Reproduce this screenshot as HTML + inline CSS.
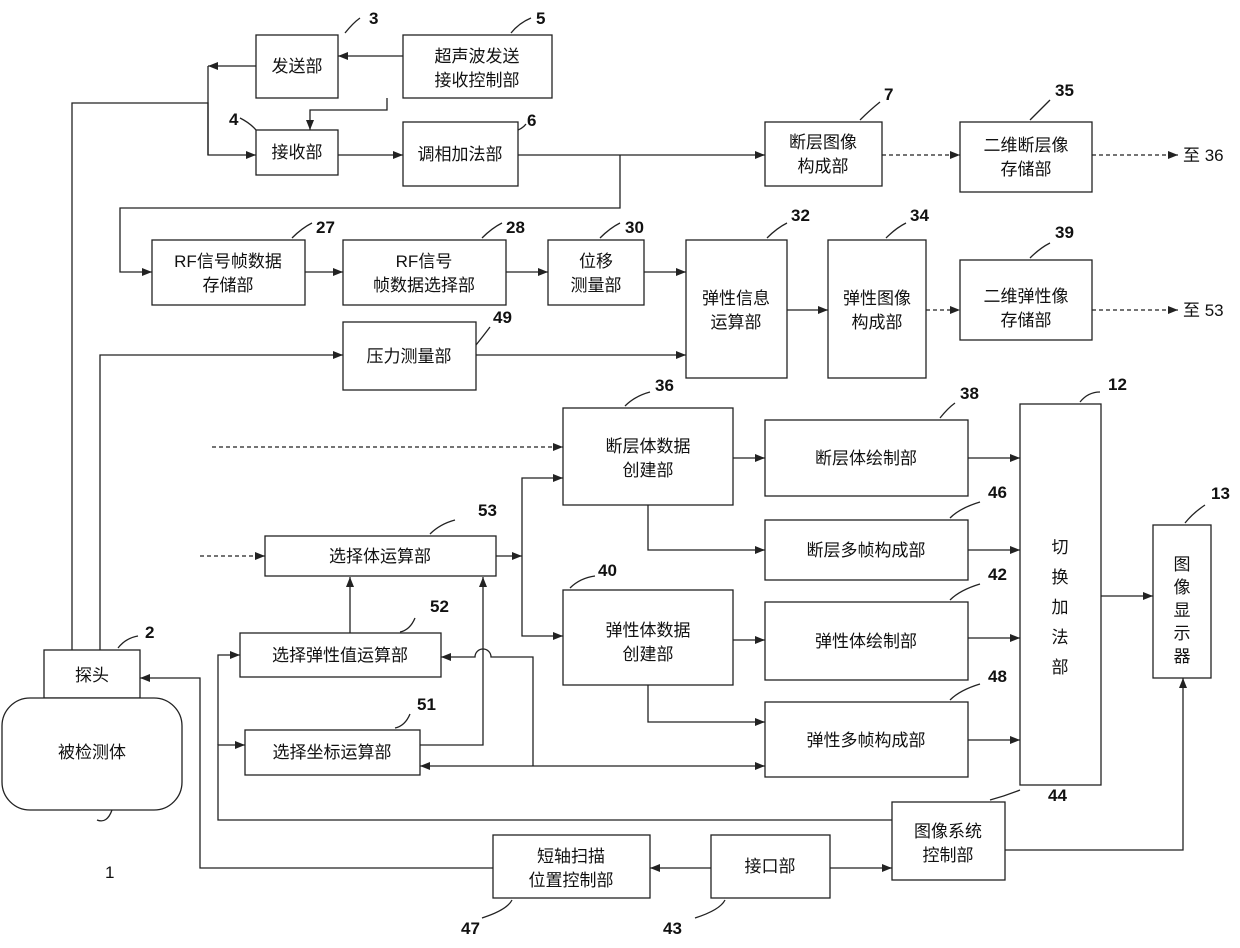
<!DOCTYPE html>
<html><head><meta charset="utf-8"><style>
body{margin:0;background:#fff}
svg text{font-family:"Liberation Sans","Noto Sans CJK SC",sans-serif;fill:#111}
.b{fill:#fff;stroke:#222;stroke-width:1.3}
.l{fill:none;stroke:#222;stroke-width:1.3}
.d{fill:none;stroke:#222;stroke-width:1.3;stroke-dasharray:4,3}
.t{font-size:17px;text-anchor:middle}
.n{font-size:17px;font-weight:bold}
</style></head><body>
<svg width="1240" height="943" viewBox="0 0 1240 943" xmlns="http://www.w3.org/2000/svg">
<defs><marker id="a" markerWidth="10" markerHeight="8" refX="10" refY="4" orient="auto" markerUnits="userSpaceOnUse"><path d="M0,0L10,4L0,8z" fill="#222"/></marker></defs>
<g class="b">
<rect x="256" y="35" width="82" height="63"/>
<rect x="403" y="35" width="149" height="63"/>
<rect x="256" y="130" width="82" height="45"/>
<rect x="403" y="122" width="115" height="64"/>
<rect x="765" y="122" width="117" height="64"/>
<rect x="960" y="122" width="132" height="70"/>
<rect x="152" y="240" width="153" height="65"/>
<rect x="343" y="240" width="163" height="65"/>
<rect x="548" y="240" width="96" height="65"/>
<rect x="686" y="240" width="101" height="138"/>
<rect x="828" y="240" width="98" height="138"/>
<rect x="960" y="260" width="132" height="80"/>
<rect x="343" y="322" width="133" height="68"/>
<rect x="563" y="408" width="170" height="97"/>
<rect x="765" y="420" width="203" height="76"/>
<rect x="1020" y="404" width="81" height="381"/>
<rect x="1153" y="525" width="58" height="153"/>
<rect x="265" y="536" width="231" height="40"/>
<rect x="765" y="520" width="203" height="60"/>
<rect x="563" y="590" width="170" height="95"/>
<rect x="240" y="633" width="201" height="44"/>
<rect x="765" y="602" width="203" height="78"/>
<rect x="44" y="650" width="96" height="48"/>
<rect x="2" y="698" width="180" height="112" rx="28"/>
<rect x="245" y="730" width="175" height="45"/>
<rect x="765" y="702" width="203" height="75"/>
<rect x="892" y="802" width="113" height="78"/>
<rect x="493" y="835" width="157" height="63"/>
<rect x="711" y="835" width="119" height="63"/>
</g>
<g class="t">
<text x="297" y="72">发送部</text>
<text x="477" y="62">超声波发送</text><text x="477" y="86">接收控制部</text>
<text x="297" y="158">接收部</text>
<text x="460" y="160">调相加法部</text>
<text x="823" y="148">断层图像</text><text x="823" y="172">构成部</text>
<text x="1026" y="151">二维断层像</text><text x="1026" y="175">存储部</text>
<text x="228" y="267">RF信号帧数据</text><text x="228" y="291">存储部</text>
<text x="424" y="267">RF信号</text><text x="424" y="291">帧数据选择部</text>
<text x="596" y="267">位移</text><text x="596" y="291">测量部</text>
<text x="736" y="304">弹性信息</text><text x="736" y="328">运算部</text>
<text x="877" y="304">弹性图像</text><text x="877" y="328">构成部</text>
<text x="1026" y="302">二维弹性像</text><text x="1026" y="326">存储部</text>
<text x="409" y="362">压力测量部</text>
<text x="648" y="452">断层体数据</text><text x="648" y="476">创建部</text>
<text x="866" y="464">断层体绘制部</text>
<text x="380" y="562">选择体运算部</text>
<text x="866" y="556">断层多帧构成部</text>
<text x="648" y="636">弹性体数据</text><text x="648" y="660">创建部</text>
<text x="340" y="661">选择弹性值运算部</text>
<text x="866" y="647">弹性体绘制部</text>
<text x="92" y="681">探头</text>
<text x="92" y="758">被检测体</text>
<text x="332" y="758">选择坐标运算部</text>
<text x="866" y="746">弹性多帧构成部</text>
<text x="948" y="837">图像系统</text><text x="948" y="861">控制部</text>
<text x="571" y="862">短轴扫描</text><text x="571" y="886">位置控制部</text>
<text x="770" y="872">接口部</text>
<text x="1060" y="553">切</text><text x="1060" y="583">换</text><text x="1060" y="613">加</text><text x="1060" y="643">法</text><text x="1060" y="673">部</text>
<text x="1182" y="570">图</text><text x="1182" y="593">像</text><text x="1182" y="616">显</text><text x="1182" y="639">示</text><text x="1182" y="662">器</text>
</g>
<text x="1183" y="161" font-size="17">至 36</text>
<text x="1183" y="316" font-size="17">至 53</text>
<text x="105" y="878" font-size="17">1</text>
<g class="n">
<text x="369" y="24">3</text><text x="536" y="24">5</text><text x="229" y="125">4</text><text x="527" y="126">6</text>
<text x="884" y="100">7</text><text x="1055" y="96">35</text><text x="316" y="233">27</text><text x="506" y="233">28</text>
<text x="625" y="233">30</text><text x="791" y="221">32</text><text x="910" y="221">34</text><text x="1055" y="238">39</text>
<text x="493" y="323">49</text><text x="655" y="391">36</text><text x="960" y="399">38</text><text x="1108" y="390">12</text>
<text x="1211" y="499">13</text><text x="478" y="516">53</text><text x="988" y="498">46</text><text x="598" y="576">40</text>
<text x="430" y="612">52</text><text x="988" y="580">42</text><text x="145" y="638">2</text><text x="417" y="710">51</text>
<text x="988" y="682">48</text><text x="1048" y="801">44</text><text x="461" y="934">47</text><text x="663" y="934">43</text>
</g>
<g class="l">
<path d="M345,33q8,-10 15,-15"/><path d="M511,33q8,-10 20,-15"/><path d="M240,118q10,5 16,12"/><path d="M518,130q5,-2 8,-6"/>
<path d="M860,120q10,-10 20,-18"/><path d="M1030,120q10,-10 20,-20"/><path d="M292,238q10,-10 20,-15"/><path d="M482,238q10,-10 20,-15"/>
<path d="M600,238q10,-10 20,-15"/><path d="M767,238q10,-10 20,-15"/><path d="M886,238q10,-10 20,-15"/><path d="M1030,258q10,-10 20,-15"/>
<path d="M476,345q8,-10 14,-18"/><path d="M625,406q10,-10 25,-14"/><path d="M940,418q8,-10 15,-15"/><path d="M1080,402q8,-10 20,-10"/>
<path d="M1185,523q8,-10 20,-18"/><path d="M430,534q10,-10 25,-14"/><path d="M950,518q10,-10 30,-16"/><path d="M570,588q10,-10 25,-12"/>
<path d="M400,632q10,-2 15,-14"/><path d="M950,600q10,-10 30,-16"/><path d="M118,648q8,-10 20,-12"/><path d="M395,728q10,-2 15,-14"/>
<path d="M950,700q10,-10 30,-16"/><path d="M990,800q15,-4 30,-10"/><path d="M97,820q10,4 15,-10"/><path d="M512,900q-5,10 -30,18"/><path d="M725,900q-5,10 -30,18"/>
</g>
<g class="l">
<path d="M403,56H338" marker-end="url(#a)"/>
<path d="M256,66H208" marker-end="url(#a)"/>
<path d="M208,66V155"/>
<path d="M72,650V103H208V155H256" marker-end="url(#a)"/>
<path d="M387,98V110H310V130" marker-end="url(#a)"/>
<path d="M338,155H403" marker-end="url(#a)"/>
<path d="M518,155H765" marker-end="url(#a)"/>
<path d="M620,155V208H120V272H152" marker-end="url(#a)"/>
<path d="M305,272H343" marker-end="url(#a)"/>
<path d="M506,272H548" marker-end="url(#a)"/>
<path d="M644,272H686" marker-end="url(#a)"/>
<path d="M787,310H828" marker-end="url(#a)"/>
<path d="M100,650V355H343" marker-end="url(#a)"/>
<path d="M476,355H686" marker-end="url(#a)"/>
<path d="M496,556H522" marker-end="url(#a)"/>
<path d="M522,556V478H563" marker-end="url(#a)"/>
<path d="M522,556V636H563" marker-end="url(#a)"/>
<path d="M733,458H765" marker-end="url(#a)"/>
<path d="M648,505V550H765" marker-end="url(#a)"/>
<path d="M733,640H765" marker-end="url(#a)"/>
<path d="M648,685V722H765" marker-end="url(#a)"/>
<path d="M968,458H1020" marker-end="url(#a)"/>
<path d="M968,550H1020" marker-end="url(#a)"/>
<path d="M968,638H1020" marker-end="url(#a)"/>
<path d="M968,740H1020" marker-end="url(#a)"/>
<path d="M1101,596H1153" marker-end="url(#a)"/>
<path d="M350,633V577" marker-end="url(#a)"/>
<path d="M420,745H483V577" marker-end="url(#a)"/>
<path d="M533,766V657H491a8,8 0 0 0 -16,0H441" marker-end="url(#a)"/>
<path d="M533,766H420" marker-end="url(#a)"/>
<path d="M533,766H765" marker-end="url(#a)"/>
<path d="M892,820H218V745H245" marker-end="url(#a)"/>
<path d="M218,745V655H240" marker-end="url(#a)"/>
<path d="M493,868H200V678H140" marker-end="url(#a)"/>
<path d="M711,868H650" marker-end="url(#a)"/>
<path d="M830,868H892" marker-end="url(#a)"/>
<path d="M1005,850H1183V678" marker-end="url(#a)"/>
</g>
<g class="d">
<path d="M882,155H960" marker-end="url(#a)"/>
<path d="M1092,155H1178" marker-end="url(#a)"/>
<path d="M926,310H960" marker-end="url(#a)"/>
<path d="M1092,310H1178" marker-end="url(#a)"/>
<path d="M212,447H563" marker-end="url(#a)"/>
<path d="M200,556H265" marker-end="url(#a)"/>
</g>
</svg>
</body></html>
